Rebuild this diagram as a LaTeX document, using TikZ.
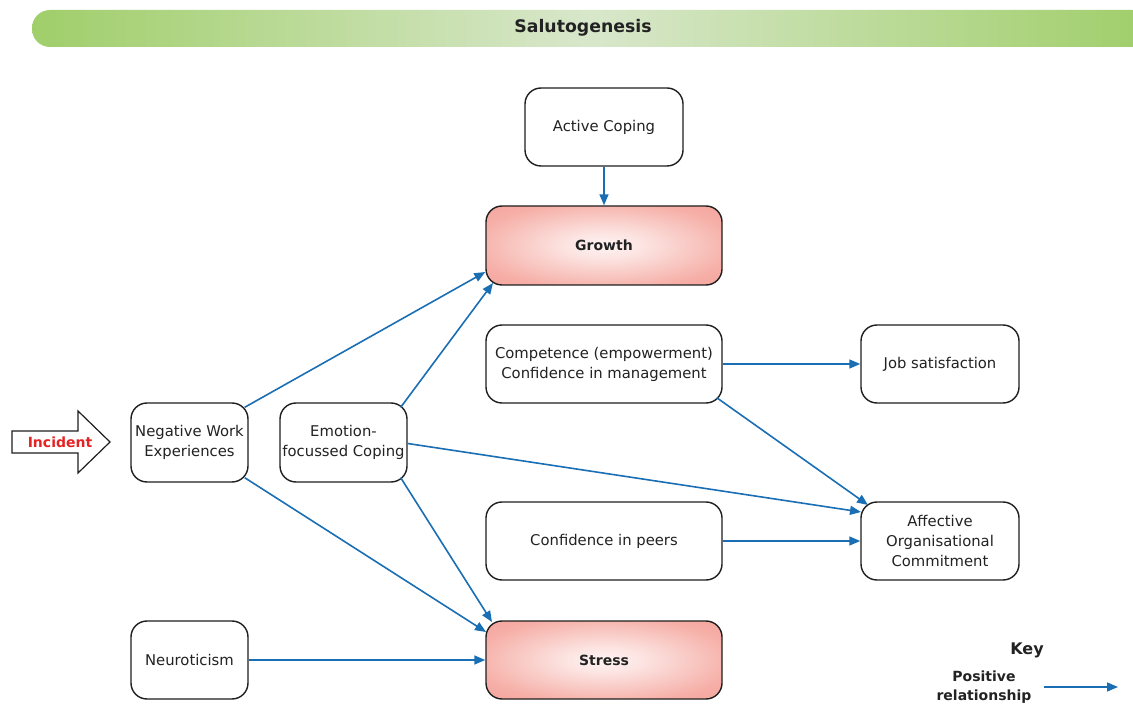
\documentclass[tikz,border=0pt]{standalone}
\usepackage{fontspec}
\setmainfont{DejaVu Sans}
\usetikzlibrary{arrows.meta}
\definecolor{linkblue}{HTML}{1A6EB4}
\definecolor{boxline}{HTML}{1E1E1E}
\definecolor{txt}{HTML}{222222}
\definecolor{pinkc}{HTML}{F4A097}
\definecolor{bandgreen}{HTML}{94C955}
\definecolor{bandlight}{HTML}{D8E7CB}
\definecolor{incred}{HTML}{E42424}
\pgfdeclareradialshading{pinkglow}{\pgfpoint{0bp}{0bp}}{%
  color(0bp)=(pinkc!12!white); color(8bp)=(pinkc!28!white);
  color(28bp)=(pinkc!85!white); color(40bp)=(pinkc); color(50bp)=(pinkc)}
\pgfdeclarehorizontalshading{bandshade}{100bp}{%
  color(0bp)=(bandgreen); color(22bp)=(bandgreen!92!bandlight);
  color(50bp)=(bandlight); color(78bp)=(bandgreen!92!bandlight);
  color(100bp)=(bandgreen)}
\tikzset{
  every node/.style={font=\fontsize{14.8}{20}\selectfont, text=txt},
  box/.style={draw=boxline, line width=1.4pt, rounded corners=16pt, fill=white,
    align=center, inner sep=0pt},
  hot/.style={box, shading=pinkglow, font=\fontsize{14}{20}\selectfont\bfseries},
  link/.style={draw=linkblue, line width=1.6pt,
    -{Triangle[length=11pt,width=9pt]}},
}
\begin{document}
\begin{tikzpicture}[x=1pt,y=-1pt]
\useasboundingbox (0,0) rectangle (1133,708);

% title band
\shade[shading=bandshade, rounded corners=18pt] (32,10) rectangle (1150,47);
\node[font=\fontsize{17.3}{20}\selectfont\bfseries] (title) at (583,28) {Salutogenesis};

% boxes
\node[box, minimum width=158pt, minimum height=78pt] (active) at (604,127) {Active Coping};
\node[hot, minimum width=236pt, minimum height=79pt] (growth) at (604,245.5) {Growth};
\node[box, minimum width=236pt, minimum height=78pt] (comp) at (604,364)
  {Competence (empowerment)\\Confidence in management};
\node[box, minimum width=158pt, minimum height=78pt] (job) at (940,364) {Job satisfaction};
\node[box, minimum width=117pt, minimum height=79pt] (nwe) at (189.5,442.5)
  {Negative Work\\Experiences};
\node[box, minimum width=127pt, minimum height=79pt] (efc) at (343.5,442.5)
  {Emotion-\\focussed Coping};
\node[box, minimum width=236pt, minimum height=78pt] (peers) at (604,541) {Confidence in peers};
\node[box, minimum width=158pt, minimum height=78pt] (aoc) at (940,541)
  {Affective\\Organisational\\Commitment};
\node[box, minimum width=117pt, minimum height=78pt] (neuro) at (189.5,660) {Neuroticism};
\node[hot, minimum width=236pt, minimum height=78pt] (stress) at (604,660) {Stress};

% incident arrow
\draw[boxline, line width=1.2pt, fill=white, line join=miter]
  (12,431) -- (78,431) -- (78,411) -- (110,442) -- (78,473) -- (78,453) -- (12,453) -- cycle;
\node[font=\fontsize{14}{18}\selectfont\bfseries, text=incred] (incident) at (60,442) {Incident};

% relationships
\draw[link] (active) -- (growth);
\draw[link] (nwe.north east) ++(-4,5) coordinate (nweA) (nweA) -- (growth.south west |- 0,272) ;
\draw[link] (efc.north east) ++(-7,5) coordinate (efcA) (efcA) -- (493,283);
\draw[link] (nwe.south east) ++(-4,-5) coordinate (nweB) (nweB) -- (486,632);
\draw[link] (efc.south east) ++(-7,-5) coordinate (efcB) (efcB) -- (492,622);
\draw[link] (efc.east) ++(0,1) coordinate (efcC) (efcC) -- (861,512);
\draw[link] (comp.east) -- (job.west);
\draw[link] (comp.south east) ++(-6,-6) coordinate (compB) (compB) -- (868,505);
\draw[link] (peers.east) -- (aoc.west);
\draw[link] (neuro.east) -- (stress.west);

% key
\node[font=\fontsize{16}{18}\selectfont\bfseries] (key) at (1027,650) {Key};
\node[font=\fontsize{14}{19}\selectfont\bfseries, align=center] (pos) at (984,687)
  {Positive\\relationship};
\coordinate (keyA) at (1044,687);
\coordinate (keyB) at (1118,687);
\draw[link] (keyA) -- (keyB);
\end{tikzpicture}
\end{document}
